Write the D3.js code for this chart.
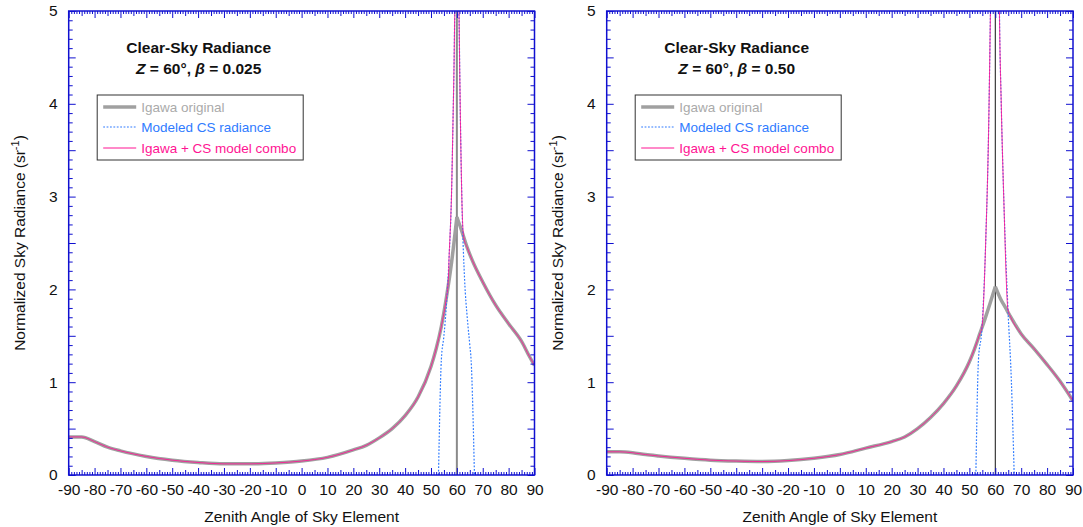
<!DOCTYPE html>
<html>
<head>
<meta charset="utf-8">
<script src="https://cdn.jsdelivr.net/npm/d3@7/dist/d3.min.js"></script>
<style>
  body { margin: 0; background: #fff; }
  svg { display: block; font-family: "Liberation Sans", Arial, Helvetica, sans-serif; }
</style>
</head>
<body>
<svg class="chart" width="1083" height="527"></svg>
<script>
// zenith angles (deg) and values
var igawaAnglesA = [-90,-85,-80,-75,-70,-60,-50,-40,-30,-20,-10,0,10,20,25,30,35,40,45,50,52,54,56,58,60,62,64,66,70,75,80,85,88,90];
var igawaA       = [0.41,0.41,0.36,0.30,0.26,0.20,0.16,0.135,0.12,0.12,0.13,0.15,0.19,0.27,0.32,0.40,0.50,0.64,0.84,1.17,1.36,1.60,1.92,2.30,2.78,2.62,2.45,2.31,2.08,1.83,1.63,1.44,1.28,1.18];
var csAnglesA    = [52.9,54,55,56,57,58,58.5,59,59.5,60,60.5,61,61.5,62,63,64,65,65.5,66.8];
var csA          = [0,1.24,1.5,1.85,2.35,3.1,3.8,4.6,6,9,6,4.6,3.6,2.9,2.1,1.7,1.4,1.24,0];
var comboAnglesA = [-90,-85,-80,-75,-70,-60,-50,-40,-30,-20,-10,0,10,20,25,30,35,40,45,50,52,54,56,56.6,57,58,58.5,59,59.5,60,60.5,61,61.5,62,62.6,64,66,70,75,80,85,88,90];
var comboA       = [0.41,0.41,0.36,0.30,0.26,0.20,0.16,0.135,0.12,0.12,0.13,0.15,0.19,0.27,0.32,0.40,0.50,0.64,0.84,1.17,1.36,1.60,1.92,2.05,2.35,3.1,3.8,4.6,6,9,6,4.6,3.6,2.9,2.57,2.45,2.31,2.08,1.83,1.63,1.44,1.28,1.18];

var igawaAnglesB = [-90,-85,-80,-75,-70,-60,-50,-40,-30,-20,-10,0,10,20,25,30,35,40,45,50,52,54,56,58,60,62,64,66,70,75,80,85,90];
var igawaB       = [0.25,0.25,0.24,0.22,0.205,0.18,0.16,0.15,0.145,0.155,0.18,0.22,0.29,0.36,0.41,0.50,0.62,0.77,0.96,1.22,1.36,1.52,1.68,1.85,2.03,1.90,1.80,1.70,1.52,1.36,1.19,1.01,0.80];
var csAnglesB    = [52.5,53.5,54.8,56.4,57.4,58.1,59,60,61,61.6,62.3,63.3,64.9,66.2,66.8,67.3];
var csB          = [0,1.24,1.56,2.6,3.68,4.94,7,10,7,5,4,2.96,1.78,1.02,0.5,0];
var comboAnglesB = [-90,-85,-80,-75,-70,-60,-50,-40,-30,-20,-10,0,10,20,25,30,35,40,45,50,52,54,54.8,56.4,57.4,58.1,59,60,61,61.6,62.3,63.3,64.9,66,70,75,80,85,90];
var comboB       = [0.25,0.25,0.24,0.22,0.205,0.18,0.16,0.15,0.145,0.155,0.18,0.22,0.29,0.36,0.41,0.50,0.62,0.77,0.96,1.22,1.36,1.52,1.58,2.6,3.68,4.94,7,10,7,5,4,2.96,1.78,1.70,1.52,1.36,1.19,1.01,0.80];

var xTickLabels = d3.range(-90, 91, 10);
var yTickLabels = [0, 1, 2, 3, 4, 5];
var legendNames = ["Igawa original", "Modeled CS radiance", "Igawa + CS model combo"];
var sunAngle = 60;

var gray = "#a0a0a0", blue = "#2f7bff", pink = "#ff1493", frame = "#1010d0";

var svg = d3.select(".chart");

function zip(a, v) { return a.map(function(d, i) { return [d, v[i]]; }); }

// split at the sun so the peak stays a sharp cusp
function halves(pts) {
    return [pts.filter(function(d) { return d[0] <= sunAngle; }),
            pts.filter(function(d) { return d[0] >= sunAngle; })];
}

function panel(left, right, beta, igawaAngles, igawa, csAngles, cs, comboAngles, combo, sunColor, sunWidth, id) {
    var top = 11, bottom = 475;
    var x = d3.scaleLinear().domain([-90, 90]).range([left, right]);
    var y = d3.scaleLinear().domain([0, 5]).range([bottom, top]);
    var g = svg.append("g");

    g.append("clipPath").attr("id", "clip" + id)
        .append("rect")
        .attr("x", left).attr("y", top)
        .attr("width", right - left).attr("height", bottom - top);

    var line = d3.line().curve(d3.curveMonotoneX)
        .x(function(d) { return x(d[0]); })
        .y(function(d) { return y(d[1]); });

    var plot = g.append("g").attr("clip-path", "url(#clip" + id + ")");

    // sun position
    plot.append("line")
        .attr("x1", x(sunAngle)).attr("x2", x(sunAngle))
        .attr("y1", y(0)).attr("y2", y(5))
        .attr("stroke", sunColor).attr("stroke-width", sunWidth);

    plot.selectAll(".igawa").data(halves(zip(igawaAngles, igawa))).enter()
        .append("path").attr("class", "igawa")
        .attr("d", line).attr("fill", "none")
        .attr("stroke", gray).attr("stroke-width", 3.5)
        .attr("stroke-linejoin", "round");
    plot.selectAll(".cs").data(halves(zip(csAngles, cs))).enter()
        .append("path").attr("class", "cs")
        .attr("d", line).attr("fill", "none")
        .attr("stroke", blue).attr("stroke-width", 1.2)
        .attr("stroke-dasharray", "1.8,1.6");
    plot.selectAll(".combo").data(halves(zip(comboAngles, combo))).enter()
        .append("path").attr("class", "combo")
        .attr("d", line).attr("fill", "none")
        .attr("stroke", pink).attr("stroke-width", 1)
        .attr("stroke-opacity", 0.85);

    // inward ticks on all four sides
    function ticks(axisFn, scale, values, size, pos, isX, labels) {
        var ax = axisFn(scale).tickValues(values).tickSize(size)
            .tickFormat(labels ? function(d) { return String(d); } : "")
            .tickPadding(labels ? 6 : 0);
        var a = g.append("g")
            .attr("transform", isX ? "translate(0," + pos + ")" : "translate(" + pos + ",0)")
            .call(ax);
        a.select(".domain").remove();
        a.selectAll("line").attr("stroke", frame).attr("stroke-width", 1);
        a.selectAll("text").attr("fill", "#111").style("font-size", "15.5px")
            .style("font-family", "Liberation Sans, Arial, sans-serif");
        return a;
    }
    var x1 = d3.range(-90, 91, 1).filter(function(d) { return d % 5 !== 0; });
    var x5 = d3.range(-85, 90, 10);
    var y1 = d3.range(0, 51).map(function(d) { return d / 10; }).filter(function(d, i) { return i % 5 !== 0; });
    var y5 = [0.5, 1.5, 2.5, 3.5, 4.5];

    ticks(d3.axisBottom, x, x1, -3, bottom, true, false);
    ticks(d3.axisBottom, x, x5, -5, bottom, true, false);
    var xb = ticks(d3.axisBottom, x, xTickLabels, -7, bottom, true, true);
    xb.selectAll("text").attr("dy", "0.9em");
    ticks(d3.axisTop, x, x1, -3, top, true, false);
    ticks(d3.axisTop, x, x5, -5, top, true, false);
    ticks(d3.axisTop, x, xTickLabels, -7, top, true, false);

    ticks(d3.axisLeft, y, y1, -4, left, false, false);
    ticks(d3.axisLeft, y, y5, -7, left, false, false);
    var yl = ticks(d3.axisLeft, y, yTickLabels, -7, left, false, true);
    yl.selectAll("text").attr("x", -11);
    ticks(d3.axisRight, y, y1, -4, right, false, false);
    ticks(d3.axisRight, y, y5, -7, right, false, false);
    ticks(d3.axisRight, y, yTickLabels, -7, right, false, false);

    g.append("rect")
        .attr("x", left).attr("y", top)
        .attr("width", right - left).attr("height", bottom - top)
        .attr("fill", "none").attr("stroke", frame).attr("stroke-width", 1.5);

    // axis titles
    g.append("text")
        .attr("x", (left + right) / 2).attr("y", 522)
        .attr("text-anchor", "middle").style("font-size", "15.5px").attr("fill", "#111")
        .text("Zenith Angle of Sky Element");
    var yt = g.append("text")
        .attr("transform", "translate(" + (left - 44) + "," + ((top + bottom) / 2) + ") rotate(-90)")
        .attr("text-anchor", "middle").style("font-size", "15.5px").attr("fill", "#111");
    yt.append("tspan").text("Normalized Sky Radiance (sr");
    yt.append("tspan").attr("dy", -6).style("font-size", "11px").text("-1");
    yt.append("tspan").attr("dy", 6).text(")");

    // in-plot title
    var cx = left + 130;
    g.append("text").attr("x", cx).attr("y", 53)
        .attr("text-anchor", "middle").style("font-size", "15.5px").style("font-weight", "bold")
        .attr("fill", "#111").text("Clear-Sky Radiance");
    var t2 = g.append("text").attr("x", cx).attr("y", 74)
        .attr("text-anchor", "middle").style("font-size", "15.5px").style("font-weight", "bold")
        .attr("fill", "#111");
    t2.append("tspan").style("font-style", "italic").text("Z");
    t2.append("tspan").text(" = 60°, ");
    t2.append("tspan").style("font-style", "italic").text("β");
    t2.append("tspan").text(" = " + beta);

    // legend
    var lx = left + 28.5, ly = 95;
    g.append("rect").attr("x", lx).attr("y", ly).attr("width", 206).attr("height", 65)
        .attr("fill", "#fff").attr("stroke", "#333").attr("stroke-width", 1);
    var styles = [
        {color: gray, width: 3.5, dash: null, text: "#aaaaaa"},
        {color: blue, width: 1.2, dash: "1.8,1.6", text: "#2f7bff"},
        {color: pink, width: 1, dash: null, text: "#ff1493"}
    ];
    var rows = [107, 127, 148];
    legendNames.forEach(function(name, i) {
        var s = styles[i];
        g.append("line")
            .attr("x1", lx + 6).attr("x2", lx + 39)
            .attr("y1", rows[i]).attr("y2", rows[i])
            .attr("stroke", s.color).attr("stroke-width", s.width)
            .attr("stroke-dasharray", s.dash);
        g.append("text").attr("x", lx + 44).attr("y", rows[i] + 5)
            .style("font-size", "13.5px").attr("fill", s.text).text(name);
    });
}

panel(68.7, 534.5, "0.025", igawaAnglesA, igawaA, csAnglesA, csA, comboAnglesA, comboA, "#8a8a8a", 2, "a");
panel(606.7, 1073, "0.50", igawaAnglesB, igawaB, csAnglesB, csB, comboAnglesB, comboB, "#111", 1, "b");
</script>
</body>
</html>
